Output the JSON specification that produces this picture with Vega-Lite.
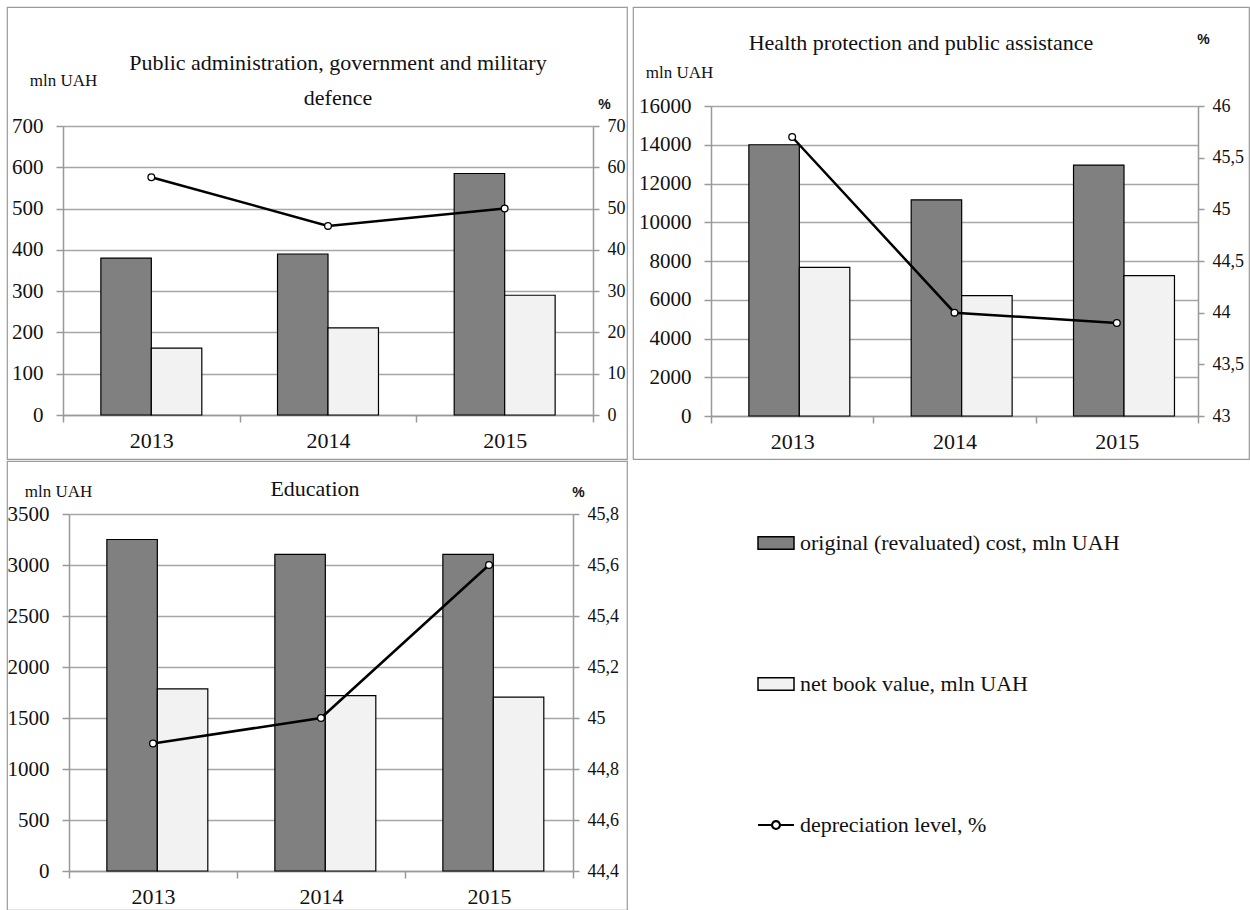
{
  "$schema": "https://vega.github.io/schema/vega-lite/v6.json",
  "padding": {"left": 6, "top": 6, "right": 2, "bottom": 0},
  "background": "white",
  "datasets": {
    "bars": [
      {"panel": "public", "year": "2013", "series": "original (revaluated) cost, mln UAH", "value": 380},
      {"panel": "public", "year": "2013", "series": "net book value, mln UAH", "value": 162},
      {"panel": "public", "year": "2014", "series": "original (revaluated) cost, mln UAH", "value": 390},
      {"panel": "public", "year": "2014", "series": "net book value, mln UAH", "value": 211},
      {"panel": "public", "year": "2015", "series": "original (revaluated) cost, mln UAH", "value": 585},
      {"panel": "public", "year": "2015", "series": "net book value, mln UAH", "value": 290},
      {"panel": "health", "year": "2013", "series": "original (revaluated) cost, mln UAH", "value": 14000},
      {"panel": "health", "year": "2013", "series": "net book value, mln UAH", "value": 7670},
      {"panel": "health", "year": "2014", "series": "original (revaluated) cost, mln UAH", "value": 11160},
      {"panel": "health", "year": "2014", "series": "net book value, mln UAH", "value": 6215},
      {"panel": "health", "year": "2015", "series": "original (revaluated) cost, mln UAH", "value": 12950},
      {"panel": "health", "year": "2015", "series": "net book value, mln UAH", "value": 7245},
      {"panel": "education", "year": "2013", "series": "original (revaluated) cost, mln UAH", "value": 3250},
      {"panel": "education", "year": "2013", "series": "net book value, mln UAH", "value": 1785},
      {"panel": "education", "year": "2014", "series": "original (revaluated) cost, mln UAH", "value": 3105},
      {"panel": "education", "year": "2014", "series": "net book value, mln UAH", "value": 1720},
      {"panel": "education", "year": "2015", "series": "original (revaluated) cost, mln UAH", "value": 3105},
      {"panel": "education", "year": "2015", "series": "net book value, mln UAH", "value": 1705}
    ],
    "dep": [
      {"panel": "public", "year": "2013", "level": 57.6},
      {"panel": "public", "year": "2014", "level": 45.8},
      {"panel": "public", "year": "2015", "level": 50},
      {"panel": "health", "year": "2013", "level": 45.7},
      {"panel": "health", "year": "2014", "level": 44.0},
      {"panel": "health", "year": "2015", "level": 43.9},
      {"panel": "education", "year": "2013", "level": 44.9},
      {"panel": "education", "year": "2014", "level": 45.0},
      {"panel": "education", "year": "2015", "level": 45.6}
    ]
  },
  "bounds": "flush",
  "columns": 2,
  "spacing": {"row": 2, "column": 6},
  "resolve": {"scale": {"fill": "independent"}, "legend": {"fill": "independent"}},
  "concat": [
    {
      "width": 620, "height": 452,
      "title": {"text": ["Public administration, government and military", "defence"], "lineHeight": 35, "dx": 21, "offset": -103, "frame": "group", "anchor": "middle"},
      "layer": [
        {
          "data": {"name": "bars"},
          "transform": [{"filter": "datum.panel == 'public'"}],
          "mark": {"type": "bar", "stroke": "black", "strokeWidth": 1.2},
          "encoding": {
            "x": {"field": "year", "type": "ordinal", "scale": {"range": [56, 586], "paddingInner": 0, "paddingOuter": 0},
                  "axis": {"title": null, "labelAngle": 0, "tickBand": "extent", "offset": -44, "tickSize": 7, "labelPadding": 8, "labelFontSize": 22, "grid": false}},
            "xOffset": {"field": "series", "type": "nominal", "sort": ["original (revaluated) cost, mln UAH", "net book value, mln UAH"], "scale": {"paddingInner": 0, "paddingOuter": 0.75}},
            "y": {"field": "value", "type": "quantitative", "scale": {"domain": [0, 700], "range": [408, 119]},
                  "axis": {"values": [0, 100, 200, 300, 400, 500, 600, 700], "format": "d", "grid": true, "offset": -56, "tickSize": 7, "labelPadding": 13, "labelFontSize": 21,
                           "title": "mln UAH", "titleAngle": 0, "titleAlign": "center", "titleBaseline": "alphabetic", "titleFontSize": 17, "titleX": 0, "titleY": 78}},
            "fill": {"condition": {"test": "datum.series == 'net book value, mln UAH'", "value": "#f2f2f2"}, "value": "#808080"}
          }
        },
        {
          "data": {"name": "dep"},
          "transform": [{"filter": "datum.panel == 'public'"}],
          "mark": {"type": "line", "color": "black", "strokeWidth": 2.5, "point": {"filled": true, "fill": "white", "stroke": "black", "strokeWidth": 1.3, "size": 45}},
          "encoding": {
            "x": {"field": "year", "type": "ordinal", "bandPosition": 0.5},
            "y": {"field": "level", "type": "quantitative", "scale": {"domain": [0, 70], "range": [408, 119]},
                  "axis": {"orient": "right", "values": [0, 10, 20, 30, 40, 50, 60, 70], "grid": false, "offset": -34, "tickSize": 6, "labelPadding": 8, "labelFontSize": 18,
                           "title": "%", "titleFont": "Liberation Sans", "titleFontWeight": "bold", "titleFontSize": 14, "titleAngle": 0, "titleAlign": "center", "titleBaseline": "alphabetic", "titleX": 11, "titleY": 101}}
          }
        }
      ],
      "resolve": {"scale": {"y": "independent"}}
    },
    {
      "width": 616, "height": 452,
      "title": {"text": "Health protection and public assistance", "dx": -20, "offset": -48, "frame": "group", "anchor": "middle"},
      "layer": [
        {
          "data": {"name": "bars"},
          "transform": [{"filter": "datum.panel == 'health'"}],
          "mark": {"type": "bar", "stroke": "black", "strokeWidth": 1.2},
          "encoding": {
            "x": {"field": "year", "type": "ordinal", "scale": {"range": [78, 565], "paddingInner": 0, "paddingOuter": 0},
                  "axis": {"title": null, "labelAngle": 0, "tickBand": "extent", "offset": -43, "tickSize": 7, "labelPadding": 8, "labelFontSize": 22, "grid": false}},
            "xOffset": {"field": "series", "type": "nominal", "sort": ["original (revaluated) cost, mln UAH", "net book value, mln UAH"], "scale": {"paddingInner": 0, "paddingOuter": 0.75}},
            "y": {"field": "value", "type": "quantitative", "scale": {"domain": [0, 16000], "range": [409, 99]},
                  "axis": {"values": [0, 2000, 4000, 6000, 8000, 10000, 12000, 14000, 16000], "format": "d", "grid": true, "offset": -78, "tickSize": 7, "labelPadding": 13, "labelFontSize": 21,
                           "title": "mln UAH", "titleAngle": 0, "titleAlign": "center", "titleBaseline": "alphabetic", "titleFontSize": 17, "titleX": -32, "titleY": 70}},
            "fill": {"condition": {"test": "datum.series == 'net book value, mln UAH'", "value": "#f2f2f2"}, "value": "#808080"}
          }
        },
        {
          "data": {"name": "dep"},
          "transform": [{"filter": "datum.panel == 'health'"}],
          "mark": {"type": "line", "color": "black", "strokeWidth": 2.5, "point": {"filled": true, "fill": "white", "stroke": "black", "strokeWidth": 1.3, "size": 45}},
          "encoding": {
            "x": {"field": "year", "type": "ordinal", "bandPosition": 0.5},
            "y": {"field": "level", "type": "quantitative", "scale": {"domain": [43, 46], "range": [409, 99]},
                  "axis": {"orient": "right", "values": [43, 43.5, 44, 44.5, 45, 45.5, 46], "labelExpr": "replace(toString(datum.value), '.', ',')", "grid": false, "offset": -51, "tickSize": 6, "labelPadding": 8, "labelFontSize": 18,
                           "title": "%", "titleFont": "Liberation Sans", "titleFontWeight": "bold", "titleFontSize": 14, "titleAngle": 0, "titleAlign": "center", "titleBaseline": "alphabetic", "titleX": 5, "titleY": 36}}
          }
        }
      ],
      "resolve": {"scale": {"y": "independent"}}
    },
    {
      "width": 620, "height": 449,
      "title": {"text": "Education", "dx": -2, "offset": -40, "frame": "group", "anchor": "middle"},
      "layer": [
        {
          "data": {"name": "bars"},
          "transform": [{"filter": "datum.panel == 'education'"}],
          "mark": {"type": "bar", "stroke": "black", "strokeWidth": 1.2},
          "encoding": {
            "x": {"field": "year", "type": "ordinal", "scale": {"range": [62, 566], "paddingInner": 0, "paddingOuter": 0},
                  "axis": {"title": null, "labelAngle": 0, "tickBand": "extent", "offset": -39, "tickSize": 7, "labelPadding": 8, "labelFontSize": 22, "grid": false}},
            "xOffset": {"field": "series", "type": "nominal", "sort": ["original (revaluated) cost, mln UAH", "net book value, mln UAH"], "scale": {"paddingInner": 0, "paddingOuter": 0.75}},
            "y": {"field": "value", "type": "quantitative", "scale": {"domain": [0, 3500], "range": [410, 53]},
                  "axis": {"values": [0, 500, 1000, 1500, 2000, 2500, 3000, 3500], "format": "d", "grid": true, "offset": -62, "tickSize": 7, "labelPadding": 13, "labelFontSize": 21,
                           "title": "mln UAH", "titleAngle": 0, "titleAlign": "center", "titleBaseline": "alphabetic", "titleFontSize": 17, "titleX": -11, "titleY": 35}},
            "fill": {"field": "series", "type": "nominal",
                     "scale": {"domain": ["original (revaluated) cost, mln UAH", "net book value, mln UAH", "depreciation level, %"], "range": ["#808080", "#f2f2f2", "#ffffff"]},
                     "legend": {"orient": "none", "legendX": 758, "legendY": 71, "title": null,
                                "labelFont": "Liberation Serif", "labelFontSize": 22, "labelColor": "#111111", "labelOffset": 13, "labelLimit": 500,
                                "rowPadding": 119, "symbolSize": 1296, "symbolStrokeColor": "black", "symbolStrokeWidth": 1.5, "symbolOpacity": 1,
                                "symbolType": "M-1,-0.35H1V0.35H-1Z",
                                "encode": {"symbols": {"update": {
                                  "shape": {"signal": "datum.value == 'depreciation level, %' ? 'M-1,0H-0.22M0.22,0H1M-0.22,0A0.22,0.22 0 1,0 0.22,0A0.22,0.22 0 1,0 -0.22,0' : 'M-1,-0.35H1V0.35H-1Z'"},
                                  "strokeWidth": {"signal": "datum.value == 'depreciation level, %' ? 2.2 : 1.5"},
                                  "stroke": {"value": "black"}
                                }}}}}
          }
        },
        {
          "data": {"name": "dep"},
          "transform": [{"filter": "datum.panel == 'education'"}],
          "mark": {"type": "line", "color": "black", "strokeWidth": 2.5, "point": {"filled": true, "fill": "white", "stroke": "black", "strokeWidth": 1.3, "size": 45}},
          "encoding": {
            "x": {"field": "year", "type": "ordinal", "bandPosition": 0.5},
            "y": {"field": "level", "type": "quantitative", "scale": {"domain": [44.4, 45.8], "range": [410, 53]},
                  "axis": {"orient": "right", "values": [44.4, 44.6, 44.8, 45, 45.2, 45.4, 45.6, 45.8], "labelExpr": "replace(toString(datum.value), '.', ',')", "grid": false, "offset": -54, "tickSize": 6, "labelPadding": 8, "labelFontSize": 18,
                           "title": "%", "titleFont": "Liberation Sans", "titleFontWeight": "bold", "titleFontSize": 14, "titleAngle": 0, "titleAlign": "center", "titleBaseline": "alphabetic", "titleX": 5, "titleY": 35}}
          }
        }
      ],
      "resolve": {"scale": {"y": "independent"}}
    }
  ],
  "config": {
    "view": {"stroke": "#9a9a9a", "strokeWidth": 1.2},
    "font": "Liberation Serif",
    "axis": {"labelFont": "Liberation Serif", "labelColor": "#111111", "titleFont": "Liberation Serif", "titleFontWeight": "normal", "titleColor": "#111111",
             "domainColor": "#999999", "tickColor": "#999999", "gridColor": "#a6a6a6", "domainWidth": 1.5, "tickWidth": 1.5, "gridWidth": 1.3},
    "title": {"font": "Liberation Serif", "fontSize": 22, "fontWeight": "normal", "color": "#111111"}
  }
}
